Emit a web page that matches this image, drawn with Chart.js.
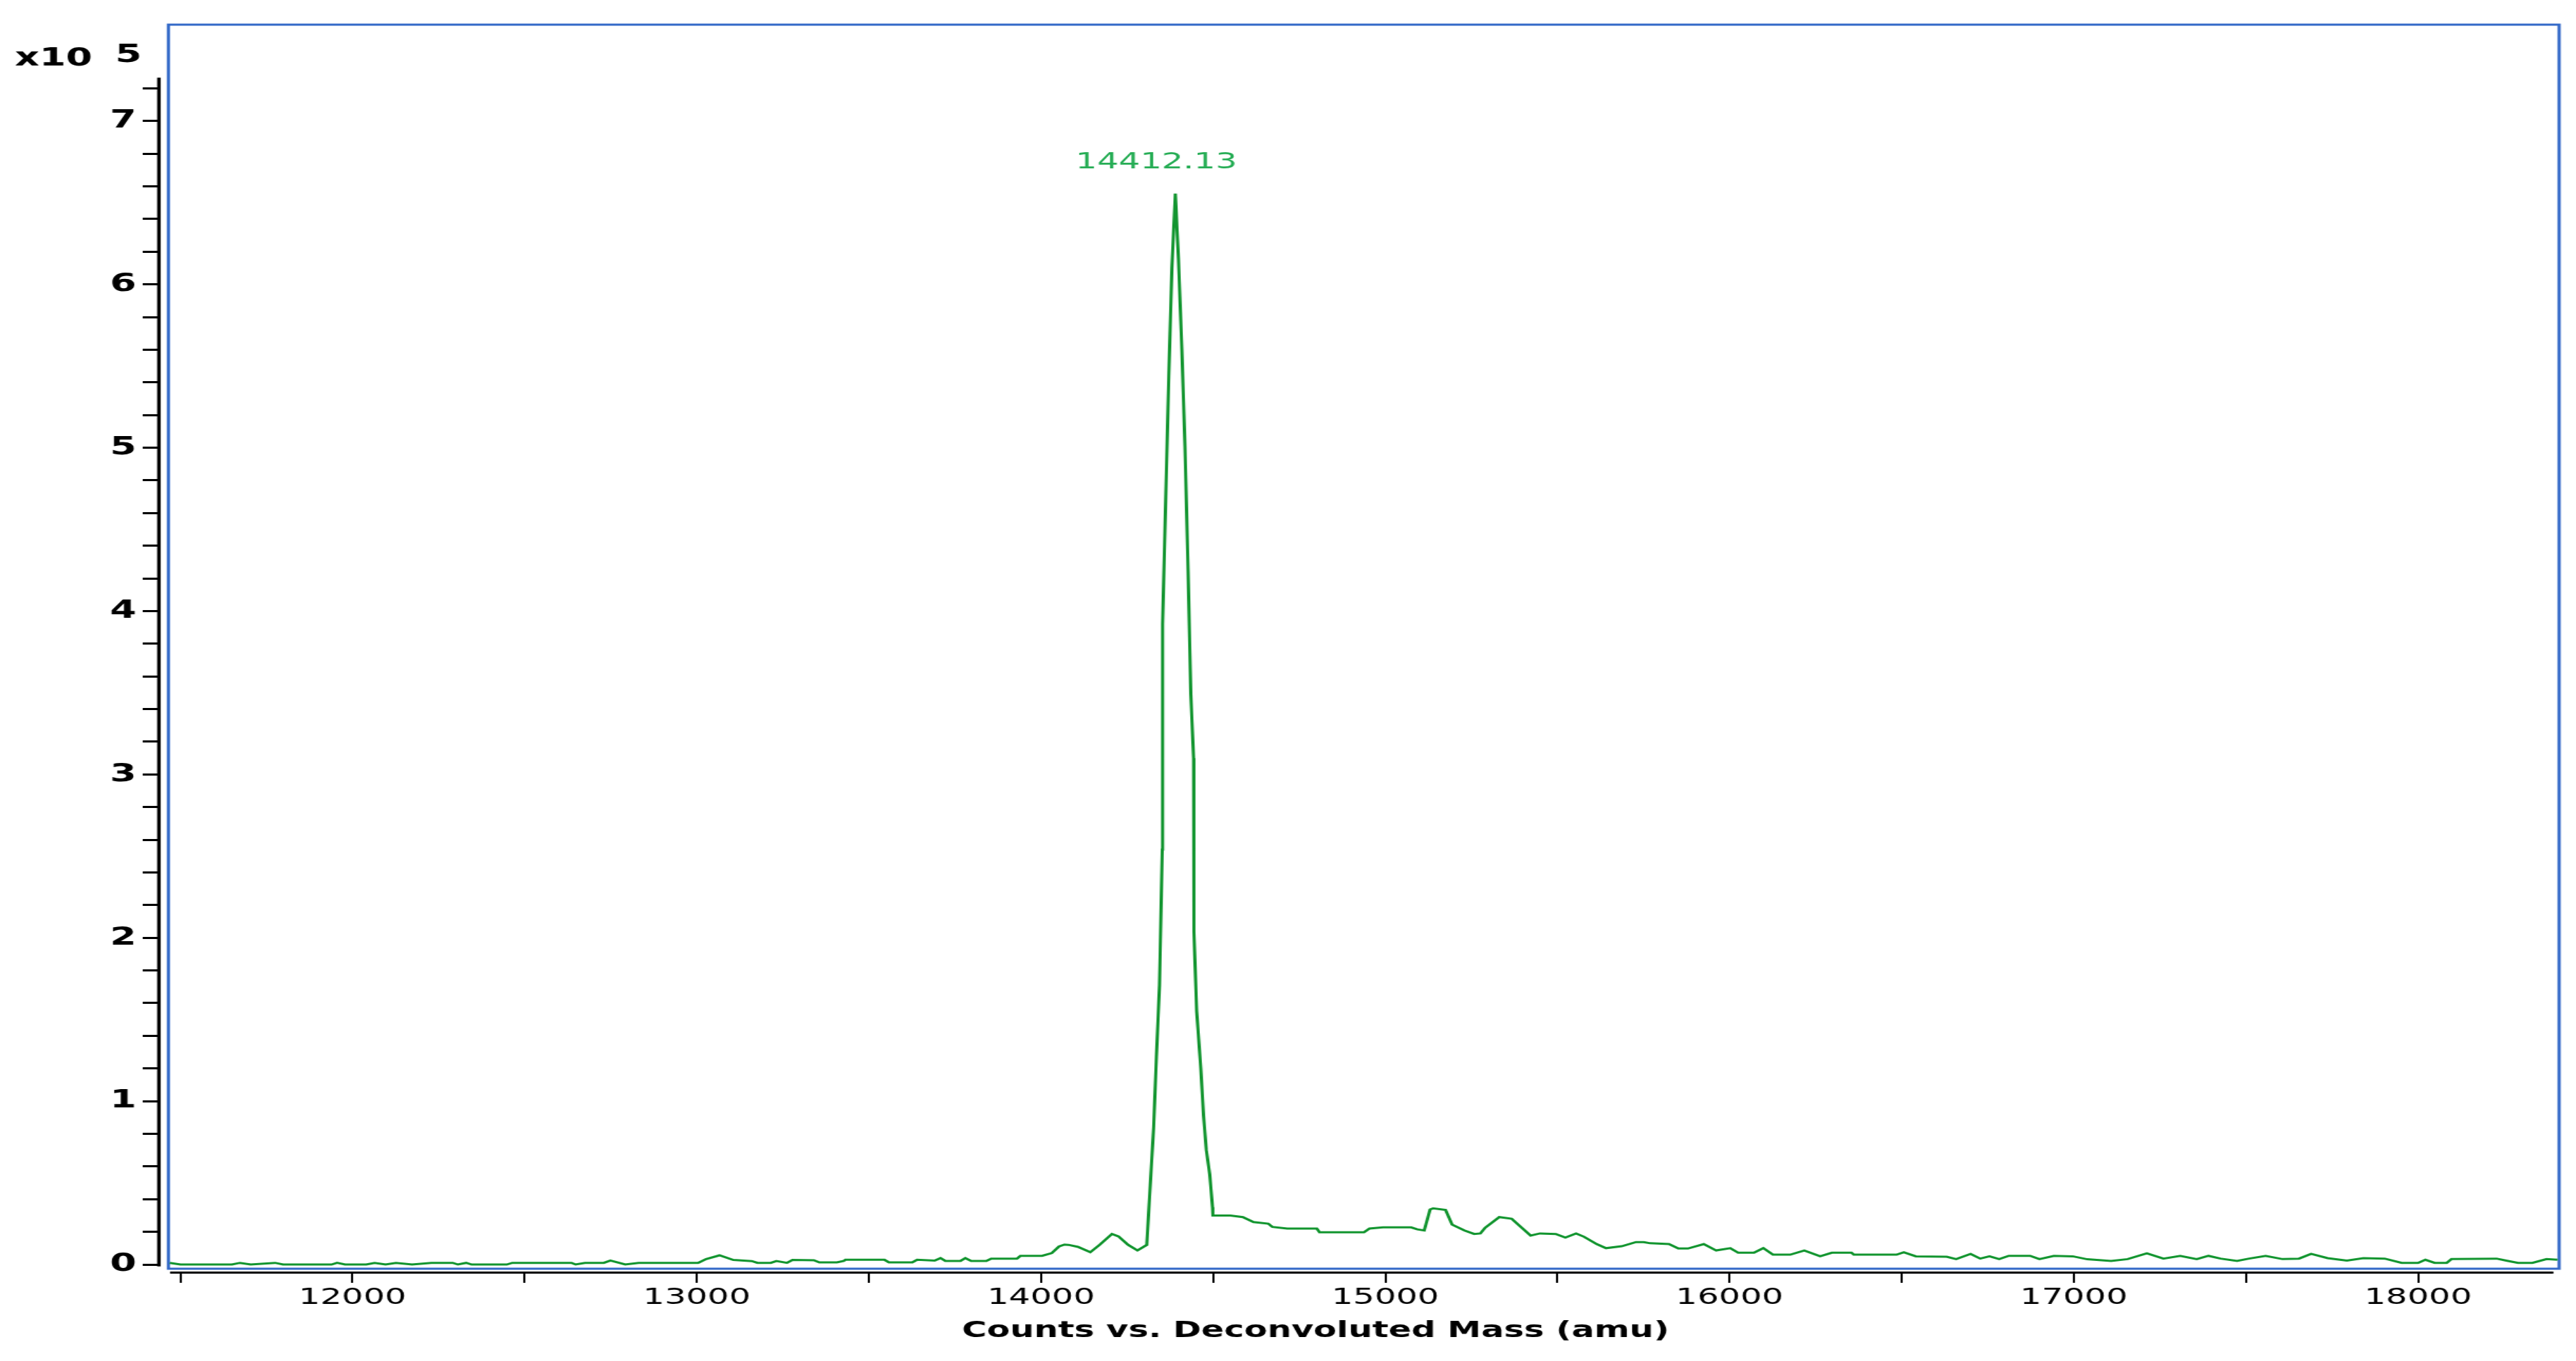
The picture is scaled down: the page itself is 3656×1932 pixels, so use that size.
<!DOCTYPE html>
<html>
<head>
<meta charset="utf-8">
<script src="https://cdn.jsdelivr.net/npm/chart.js@4.4.1/dist/chart.umd.min.js"></script>
<style>
  html, body { margin: 0; padding: 0; background: #fff; overflow: hidden; }
  /* the source picture is stretched sideways, so the canvas is too */
  #spectrum { display: block; width: 3656px !important; height: 1932px !important; }
</style>
</head>
<body>
<canvas id="spectrum" width="2437" height="1932" style="width:3656px;height:1932px"></canvas>
<script>
// deconvoluted mass (amu) and counts in units of 10^5
const massAmu = [
  11469, 11500, 11650, 11673, 11704, 11775, 11798, 11939, 11955, 11978,
  12040, 12064, 12096, 12126, 12173, 12229, 12291, 12306, 12330, 12346,
  12448, 12464, 12636, 12648, 12675, 12730, 12749, 12792, 12831, 13004,
  13027, 13066, 13106, 13160, 13176, 13215, 13231, 13262, 13278, 13340,
  13356, 13407, 13427, 13432, 13545, 13558, 13626, 13640, 13691, 13708,
  13722, 13766, 13780, 13797, 13841, 13855, 13930, 13940, 14003, 14031,
  14052, 14068, 14080, 14107, 14143, 14170, 14206, 14225, 14253, 14280,
  14307, 14315, 14327, 14335, 14344, 14352, 14353, 14362, 14371, 14380,
  14390, 14399, 14409, 14418, 14427, 14435, 14443, 14444, 14452, 14464,
  14472, 14480, 14490, 14498, 14499, 14550, 14586, 14617, 14660, 14672,
  14715, 14801, 14809, 14938, 14954, 14993, 15075, 15093, 15113, 15130,
  15139, 15175, 15194, 15230, 15258, 15276, 15290, 15331, 15367, 15390,
  15422, 15449, 15495, 15523, 15554, 15577, 15614, 15641, 15687, 15728,
  15751, 15769, 15824, 15851, 15879, 15925, 15961, 16002, 16025, 16071,
  16098, 16126, 16176, 16217, 16263, 16297, 16354, 16361, 16485, 16506,
  16541, 16631, 16658, 16700, 16728, 16755, 16783, 16811, 16873, 16900,
  16942, 16997, 17039, 17108, 17156, 17212, 17260, 17309, 17357, 17391,
  17426, 17474, 17509, 17557, 17606, 17654, 17689, 17737, 17793, 17841,
  17903, 17952, 18000, 18021, 18048, 18083, 18097, 18228, 18256, 18290,
  18332, 18373, 18405
];
const countsE5 = [
  0.010, 0.000, 0.000, 0.010, 0.000, 0.010, 0.000, 0.000, 0.010, 0.000,
  0.000, 0.010, 0.000, 0.010, 0.000, 0.010, 0.010, 0.000, 0.010, 0.000,
  0.000, 0.010, 0.010, 0.000, 0.010, 0.010, 0.024, 0.000, 0.010, 0.010,
  0.033, 0.056, 0.028, 0.021, 0.010, 0.010, 0.021, 0.010, 0.028, 0.026,
  0.013, 0.013, 0.022, 0.029, 0.029, 0.013, 0.013, 0.029, 0.024, 0.039,
  0.022, 0.022, 0.039, 0.022, 0.022, 0.036, 0.036, 0.053, 0.053, 0.070,
  0.110, 0.122, 0.120, 0.108, 0.075, 0.120, 0.187, 0.172, 0.120, 0.086,
  0.120, 0.410, 0.840, 1.270, 1.710, 2.540, 3.920, 4.680, 5.440, 6.100,
  6.556, 6.160, 5.600, 5.010, 4.250, 3.490, 3.100, 2.040, 1.550, 1.200,
  0.910, 0.700, 0.550, 0.350, 0.300, 0.300, 0.290, 0.260, 0.250, 0.230,
  0.220, 0.220, 0.197, 0.197, 0.220, 0.227, 0.227, 0.215, 0.208, 0.337,
  0.344, 0.334, 0.244, 0.208, 0.187, 0.190, 0.225, 0.290, 0.280, 0.237,
  0.177, 0.190, 0.187, 0.165, 0.190, 0.170, 0.125, 0.100, 0.112, 0.137,
  0.137, 0.130, 0.125, 0.098, 0.098, 0.125, 0.086, 0.100, 0.072, 0.072,
  0.100, 0.060, 0.060, 0.086, 0.050, 0.072, 0.072, 0.060, 0.060, 0.075,
  0.050, 0.047, 0.033, 0.065, 0.036, 0.050, 0.033, 0.053, 0.053, 0.033,
  0.053, 0.050, 0.032, 0.022, 0.033, 0.068, 0.036, 0.053, 0.033, 0.053,
  0.036, 0.022, 0.036, 0.053, 0.033, 0.036, 0.065, 0.039, 0.024, 0.039,
  0.036, 0.010, 0.010, 0.029, 0.010, 0.010, 0.033, 0.036, 0.024, 0.010,
  0.010, 0.033, 0.029
];

// tick positions; only the thousands carry a label
const xTicks = [11500, 12000, 12500, 13000, 13500, 14000, 14500, 15000,
  15500, 16000, 16500, 17000, 17500, 18000];
const xTickLabels = [12000, 13000, 14000, 15000, 16000, 17000, 18000];
const yTickLabels = [0, 1, 2, 3, 4, 5, 6, 7];
const peakLabel = '14412.13';
const xTitle = 'Counts vs. Deconvoluted Mass (amu)';
const yMultiplier = ['x10', '5'];

const FONT = '"DejaVu Sans", Verdana, sans-serif';
const near = (v, list) => list.some(t => Math.abs(v - t) < 1e-6);

const decorations = {
  id: 'decorations',
  beforeDatasetsDraw(chart) {
    const {ctx, chartArea: a} = chart;
    ctx.save();
    ctx.strokeStyle = '#3369c8';
    ctx.lineWidth = 3;
    ctx.strokeRect(a.left + 9.3, a.top, a.right - a.left - 9.3, a.bottom - 5 - a.top);
    ctx.restore();
  },
  afterDraw(chart) {
    const {ctx, chartArea: a, scales: {x, y}} = chart;
    ctx.save();
    // detached axis lines
    ctx.strokeStyle = '#000';
    ctx.lineWidth = 3.3;
    ctx.beginPath();
    ctx.moveTo(a.left + 0.3, y.getPixelForValue(7.265));
    ctx.lineTo(a.left + 0.3, y.getPixelForValue(-0.012));
    ctx.stroke();
    ctx.lineWidth = 3;
    ctx.beginPath();
    ctx.moveTo(x.getPixelForValue(11470), a.bottom + 0.5);
    ctx.lineTo(x.getPixelForValue(18393), a.bottom + 0.5);
    ctx.stroke();

    ctx.fillStyle = '#000';
    ctx.textBaseline = 'alphabetic';
    ctx.textAlign = 'left';
    ctx.font = 'bold 36px ' + FONT;
    ctx.fillText(yMultiplier[0], 14, 93);
    ctx.fillText(yMultiplier[1], 109, 88);

    ctx.textAlign = 'center';
    ctx.font = 'bold 32px ' + FONT;
    ctx.fillText(xTitle, (a.left + a.right) / 2 - 41, 1898);

    // peak annotation
    let top = 0;
    countsE5.forEach((c, i) => { if (c > countsE5[top]) top = i; });
    const px = x.getPixelForValue(massAmu[top]);
    const py = y.getPixelForValue(countsE5[top]);
    ctx.fillStyle = '#26ad55';
    ctx.font = '32px ' + FONT;
    ctx.fillText(peakLabel, px - 18, py - 36);
    ctx.restore();
  }
};

new Chart(document.getElementById('spectrum'), {
  type: 'scatter',
  data: {
    datasets: [{
      data: massAmu.map((m, i) => ({x: m, y: countsE5[i]})),
      showLine: true,
      borderColor: '#12952f',
      borderWidth: 3,
      pointRadius: 0,
      tension: 0
    }]
  },
  options: {
    responsive: false,
    devicePixelRatio: 1,
    animation: false,
    layout: {padding: {left: 0, right: 16, top: 35, bottom: 0}},
    plugins: {legend: {display: false}, tooltip: {enabled: false}},
    scales: {
      x: {
        type: 'linear',
        position: 'bottom',
        min: 11436.6,
        max: 18409.5,
        afterBuildTicks: s => { s.ticks = xTicks.map(v => ({value: v})); },
        afterFit: s => { s.height = 126; },
        border: {display: false},
        grid: {drawOnChartArea: false, drawTicks: true, tickLength: 15, lineWidth: 2, color: '#000'},
        ticks: {
          autoSkip: false,
          maxRotation: 0,
          padding: 2,
          color: '#000',
          font: {family: FONT, size: 32},
          callback: v => near(v, xTickLabels) ? String(Math.round(v)) : ''
        }
      },
      y: {
        type: 'linear',
        min: -0.0474,
        max: 7.59,
        afterFit: s => { s.width = 150; },
        afterBuildTicks: s => { s.ticks = s.ticks.filter(t => t.value <= 7.25); },
        border: {display: false},
        grid: {drawOnChartArea: false, drawTicks: true, tickLength: 15, lineWidth: 3, color: '#000'},
        ticks: {
          stepSize: 0.2,
          includeBounds: false,
          autoSkip: false,
          padding: 6,
          color: '#000',
          font: {family: FONT, size: 36, weight: 'bold'},
          callback: v => near(v, yTickLabels) ? String(Math.round(v)) : ''
        }
      }
    }
  },
  plugins: [decorations]
});
</script>
</body>
</html>
